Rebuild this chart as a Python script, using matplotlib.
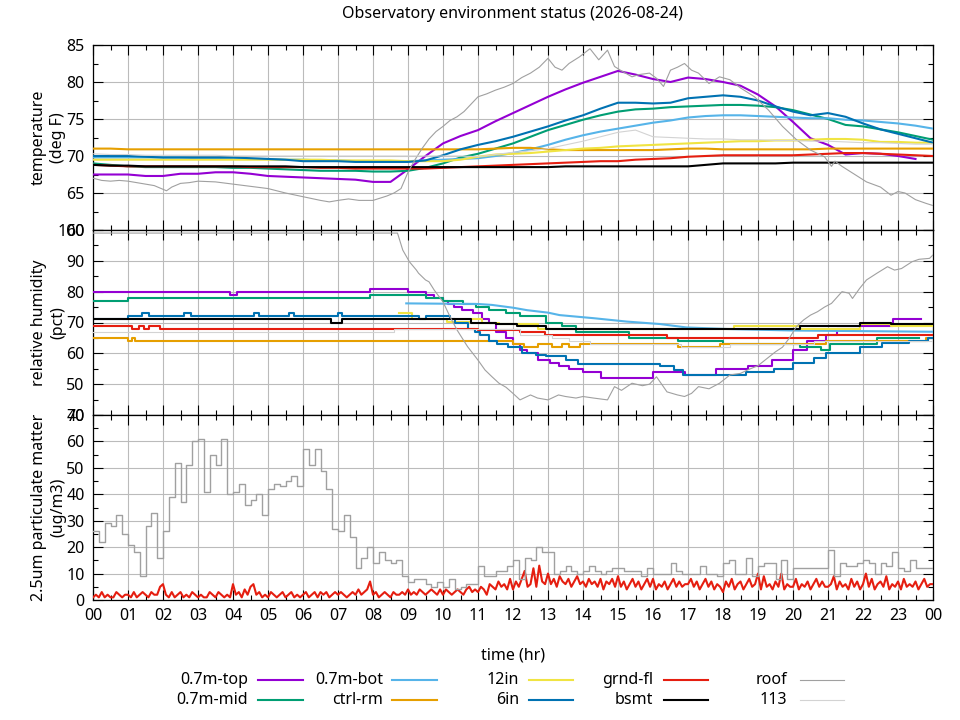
import numpy as np
import matplotlib
matplotlib.use("Agg")
import matplotlib.pyplot as plt
from matplotlib.lines import Line2D
from matplotlib.ticker import MultipleLocator

plt.rcParams['font.family'] = ['Noto Sans', 'DejaVu Sans']
plt.rcParams['font.size'] = 11.5

# ---------------- data ----------------
NAMES = ['0.7m-top', '0.7m-mid', '0.7m-bot', 'ctrl-rm', '12in',
         '6in', 'grnd-fl', 'bsmt', 'roof', '113']
COLORS = ['#9400d3', '#009e73', '#56b4e9', '#e69f00', '#f0e442',
          '#0072b2', '#e51e10', '#000000', '#a0a0a0', '#d3d3d3']

# temperature, every half hour 00:00 .. 24:00
t_hours = np.arange(49) * 0.5
temp_top = [67.5, 67.5, 67.5, 67.3, 67.3, 67.6, 67.6, 67.8, 67.8, 67.6,
            67.3, 67.2, 67.1, 67.0, 66.9, 66.8, 66.5, 66.5, 68.2, 70.0,
            71.7, 72.7, 73.5, 74.7, 75.8, 76.9, 78.0, 79.0, 79.9, 80.7,
            81.5, 81.0, 80.4, 80.0, 80.6, 80.4, 80.0, 79.5, 78.3, 76.7,
            74.6, 72.4, 71.5, 70.2, 70.4, 70.3, 70.0, 69.6, np.nan]
temp_mid = [69.0, 68.8, 68.6, 68.5, 68.5, 68.5, 68.5, 68.5, 68.4, 68.4,
            68.3, 68.2, 68.1, 68.0, 68.0, 68.0, 67.9, 67.9, 68.0, 68.4,
            69.0, 69.8, 70.3, 71.0, 71.7, 72.6, 73.5, 74.2, 74.9, 75.5,
            76.0, 76.3, 76.4, 76.6, 76.7, 76.8, 76.9, 76.9, 76.8, 76.6,
            76.2, 75.6, 75.0, 74.2, 74.0, 73.6, 73.2, 72.7, 72.2]
temp_bot = [69.8, 69.8, 69.8, 69.8, 69.8, 69.8, 69.7, 69.7, 69.7, 69.6,
            69.6, 69.5, 69.5, 69.4, 69.4, 69.3, 69.3, 69.3, 69.3, 69.4,
            69.5, 69.6, 69.7, 70.0, 70.4, 70.9, 71.5, 72.2, 72.8, 73.3,
            73.7, 74.1, 74.5, 74.8, 75.2, 75.4, 75.5, 75.5, 75.4, 75.3,
            75.2, 75.1, 75.1, 74.9, 74.8, 74.6, 74.4, 74.1, 73.7]
temp_ctrl = [71.0, 71.0, 70.9, 70.9, 70.9, 70.9, 70.9, 70.9, 70.9, 70.9,
             70.9, 70.9, 70.9, 70.9, 70.9, 70.9, 70.9, 70.9, 70.9, 70.9,
             70.9, 70.9, 70.9, 71.0, 71.1, 71.1, 70.9, 70.8, 70.8, 70.8,
             70.8, 70.8, 70.8, 70.9, 71.0, 71.0, 70.9, 70.9, 70.9, 70.9,
             70.9, 70.9, 71.0, 71.0, 71.0, 71.0, 71.0, 71.0, 71.0]
temp_12in = [69.5, 69.5, 69.5, 69.5, 69.5, 69.5, 69.5, 69.5, 69.5, 69.5,
             69.5, 69.5, 69.5, 69.5, 69.4, 69.4, 69.4, 69.4, 69.3, 69.3,
             69.3, 69.5, 69.9, 70.2, 70.3, 70.4, 70.6, 70.8, 71.0, 71.1,
             71.3, 71.4, 71.5, 71.6, 71.7, 71.8, 71.9, 72.0, 72.0, 72.1,
             72.1, 72.2, 72.3, 72.3, 72.2, 71.9, 71.9, 71.8, 71.8]
temp_6in = [70.0, 70.0, 70.0, 69.9, 69.8, 69.8, 69.8, 69.8, 69.8, 69.7,
            69.6, 69.5, 69.3, 69.3, 69.3, 69.2, 69.2, 69.2, 69.2, 69.4,
            70.1, 70.9, 71.5, 72.0, 72.6, 73.3, 74.0, 74.8, 75.5, 76.4,
            77.2, 77.2, 77.1, 77.2, 77.8, 78.0, 78.2, 78.0, 77.5, 76.7,
            76.0, 75.5, 75.8, 75.3, 74.4, 73.6, 73.0, 72.4, 71.8]
temp_grnd = [68.8, 68.7, 68.6, 68.6, 68.6, 68.6, 68.6, 68.6, 68.6, 68.5,
             68.5, 68.5, 68.5, 68.4, 68.4, 68.3, 68.3, 68.3, 68.3, 68.3,
             68.4, 68.5, 68.6, 68.7, 68.8, 68.9, 69.0, 69.1, 69.2, 69.3,
             69.3, 69.5, 69.6, 69.7, 69.9, 70.0, 70.1, 70.1, 70.1, 70.1,
             70.1, 70.2, 70.3, 70.4, 70.4, 70.3, 70.2, 70.1, 70.0]
temp_bsmt = [68.8, 68.7, 68.7, 68.6, 68.6, 68.6, 68.6, 68.6, 68.6, 68.6,
             68.6, 68.6, 68.5, 68.5, 68.5, 68.5, 68.5, 68.5, 68.5, 68.5,
             68.5, 68.5, 68.5, 68.5, 68.5, 68.5, 68.5, 68.6, 68.6, 68.6,
             68.6, 68.6, 68.6, 68.6, 68.6, 68.8, 69.0, 69.0, 69.0, 69.0,
             69.1, 69.1, 69.1, 69.1, 69.1, 69.1, 69.1, 69.1, 69.1]
temp_113 = [70.3, 70.2, 70.2, 70.1, 70.1, 70.1, 70.1, 70.1, 70.0, 70.0,
            70.0, 70.0, 70.0, 70.0, 70.0, 70.0, 70.0, 70.0, 70.0, 70.0,
            70.0, 70.0, 69.9, 70.2, 70.5, 70.7, 71.0, 71.5, 72.0, 72.6,
            73.2, 73.5, 72.6, 72.5, 72.4, 72.3, 72.3, 72.2, 72.2, 72.1,
            72.1, 72.0, 72.0, 71.9, 71.8, 71.8, 71.7, 71.6, 71.6]

roof_t_hours = [0, 0.25, 0.5, 0.75, 1.0, 1.25, 1.5, 1.75, 2.0, 2.1, 2.25, 2.5,
                2.75, 3.0, 3.5, 4.0, 4.5, 5.0, 5.5, 6.0, 6.5, 6.75, 7.0, 7.3,
                7.6, 8.0, 8.2, 8.4, 8.6, 8.8, 9.0, 9.2, 9.4, 9.6, 9.8, 10.0,
                10.2, 10.4, 10.6, 10.8, 11.0, 11.25, 11.5, 11.75, 12.0, 12.25,
                12.5, 12.75, 13.0, 13.2, 13.4, 13.6, 13.9, 14.2, 14.45, 14.7,
                14.9, 15.1, 15.4, 15.6, 15.9, 16.1, 16.3, 16.5, 16.7, 16.9,
                17.1, 17.3, 17.6, 17.9, 18.2, 18.5, 18.9, 19.3, 19.7, 20.1,
                20.5, 20.9, 21.1, 21.2, 21.4, 21.7, 22.1, 22.5, 22.8, 23.0,
                23.2, 23.5, 23.8, 24.0]
roof_temp = [67.0, 66.7, 66.6, 66.7, 66.6, 66.4, 66.2, 66.0, 65.5, 65.3, 65.8, 66.3,
             66.4, 66.6, 66.5, 66.2, 65.9, 65.6, 65.0, 64.5, 64.0, 63.8, 64.0, 64.2,
             64.0, 64.0, 64.3, 64.6, 65.0, 65.6, 67.8, 69.5, 71.0, 72.3, 73.3, 74.0,
             74.8, 75.3, 76.0, 77.0, 78.0, 78.4, 78.9, 79.3, 79.8, 80.6,
             81.2, 82.0, 83.2, 82.0, 81.6, 82.5, 83.4, 84.5, 83.0, 84.3,
             82.1, 81.5, 80.7, 81.0, 81.2, 80.5, 79.4, 81.6, 82.0, 82.5,
             81.6, 81.2, 79.8, 80.7, 80.3, 79.2, 78.0, 76.2, 74.0, 72.2,
             70.8, 69.9, 68.6, 69.3, 68.6, 67.7, 66.5, 65.8, 64.7, 65.2,
             65.0, 64.1, 63.6, 63.3]

# relative humidity: step series, (change time, new value)
rh_top_h = [0, 3.9, 4.1, 7.9, 9.0, 9.5, 9.75, 10.0, 10.15, 10.3, 10.55, 10.85,
            11.1, 11.3, 11.5, 11.8, 12.0, 12.2, 12.4, 12.7, 13.05, 13.3, 13.6,
            14.0, 14.5, 16.0, 16.9, 17.8, 18.7, 19.4, 20.0, 20.4, 20.95, 21.25,
            21.9, 22.85, 23.65]
rh_top = [80, 79, 80, 81, 80, 79, 78, 77, 76, 75, 74, 73,
          71, 70, 67, 65, 63, 61, 60, 58, 57, 56, 55,
          54, 52, 54, 53, 55, 56, 58, 61, 64, 66, 68,
          69, 71, 71]
rh_mid_h = [0, 1.0, 7.9, 9.5, 10.0, 10.57, 10.95, 11.3, 11.8, 12.2, 12.95, 13.4,
            13.8, 15.3, 16.7, 18.0, 20.2, 20.8, 21.05, 22.4, 23.6]
rh_mid = [77, 78, 79, 78, 77, 76, 75, 74, 73, 72, 70, 69,
          67, 65, 64, 63, 62, 61, 63, 65, 65]
rh_bot_h = [8.95, 11.0, 11.4, 12.0, 12.4, 13.0, 13.33, 14.3, 15.25, 16.2, 16.95,
            18.1, 20.0, 22.0, 24.0]
rh_bot = [76.2, 76.0, 75.7, 74.8, 74.0, 73.2, 72.4, 71.4, 70.3, 69.5, 68.4,
          67.9, 67.4, 67.2, 67.0]
rh_ctrl_h = [0, 1.0, 1.1, 1.2, 12.0, 12.3, 12.7, 13.1, 13.4, 13.6, 13.9, 16.7,
             17.9, 20.95, 23.8, 24.0]
rh_ctrl = [65, 64, 65, 64, 63, 62, 63, 62, 63, 62, 63, 62,
           63, 64, 65, 65]
rh_12in_h = [8.75, 9.1, 10.1, 10.8, 11.1, 11.6, 12.7, 18.3, 20.2, 21.9, 22.8, 24.0]
rh_12in = [73, 71, 70.3, 71, 70, 69.5, 68, 69, 68, 69.5, 69, 69]
rh_6in_h = [0, 1.0, 1.4, 1.6, 2.6, 2.8, 4.6, 4.75, 5.6, 5.75, 7.0, 7.1, 9.3, 9.5,
            10.2, 10.35, 10.7, 10.9, 11.05, 11.3, 11.55, 11.85, 12.25, 12.65,
            12.95, 13.5, 13.85, 16.2, 16.6, 16.85, 18.65, 19.45, 20.0, 20.6,
            20.95, 21.9, 22.55, 23.3, 23.85, 24.0]
rh_6in = [71, 72, 73, 72, 73, 72, 73, 72, 73, 72, 73, 72, 71, 72,
          71, 70, 68, 67, 66, 64, 63, 62, 60, 59.5,
          59, 58, 56.5, 56, 54.5, 53, 54, 55, 57, 58.5,
          60, 62, 63.5, 64, 65, 65]
rh_grnd_h = [0, 1.1, 1.3, 1.45, 1.6, 1.9, 11.0, 12.2, 12.9, 16.4, 20.7, 24.0]
rh_grnd = [69, 68, 69, 68, 69, 68, 67.5, 67, 66, 65, 66, 66]
rh_bsmt_h = [0, 6.8, 7.1, 10.8, 11.5, 12.1, 12.95, 20.2, 21.9, 22.8, 24.0]
rh_bsmt = [71, 70, 71, 70, 69.5, 69, 68, 69, 70, 69.5, 69.5]
rh_113_h = [0, 8.6, 12.2, 13.1, 13.6, 14.2, 16.8, 18.2, 20.6, 24.0]
rh_113 = [67, 68, 66, 65, 64, 63, 62, 63, 64, 64]

roof_rh_hours = [0, 8.7, 8.85, 9.04, 9.24, 9.3, 9.5, 9.6, 9.75, 10.0, 10.2, 10.4,
                 10.7, 11.0, 11.2, 11.4, 11.6, 11.8, 12.0, 12.2, 12.5, 12.7, 13.0,
                 13.3, 13.5, 13.8, 14.0, 14.3, 14.7, 14.9, 15.1, 15.4, 15.7, 15.9,
                 16.1, 16.4, 16.7, 16.9, 17.1, 17.3, 17.6, 17.9, 18.2, 18.5, 18.7,
                 19.0, 19.2, 19.5, 19.7, 19.9, 20.1, 20.3, 20.5, 20.7, 20.9, 21.1,
                 21.4, 21.6, 21.7, 21.9, 22.1, 22.4, 22.7, 22.9, 23.1, 23.4, 23.6,
                 23.9, 24.0]
roof_rh = [99, 99, 93.5, 89.7, 87, 86, 83.8, 83.2, 80.5, 76.7, 71.9, 67.6,
           62.2, 57.8, 54.6, 52.4, 50.3, 49, 47.0, 44.9, 46.5, 45.5, 44.9,
           46.5, 46, 45.5, 46, 45.5, 44.9, 49.2, 48, 50.3, 49.5, 50,
           52.4, 47.5, 46.5, 46, 47, 49.2, 48.5, 50.3, 53, 53.5, 54.6,
           56, 57.8, 60.5, 62, 65, 68.7, 70.8, 72.4, 73.5, 75, 76.2,
           80.0, 79.5, 77.8, 81, 83.8, 86.0, 88.1, 87, 87.5, 89.7, 90.5,
           90.8, 91.9]

# particulate matter: roof every 10 minutes, grnd-fl every 5 minutes
pm_roof_hours = np.arange(145) / 6.0
pm_roof = [26, 22, 29, 28, 32, 25, 21, 18, 9, 28, 33, 16,
           26, 39, 52, 37, 51, 60, 61, 41, 55, 51, 61, 40,
           41, 44, 36, 38, 40, 32, 42, 44, 43, 45, 47, 43,
           57, 51, 57, 49, 42, 27, 26, 32, 24, 12, 16, 20,
           14, 18, 15, 14, 15, 9, 7, 8, 8, 6, 5, 7,
           5, 8, 4, 5, 6, 6, 13, 9, 9, 11, 11, 13,
           15, 8, 16, 15, 20, 18, 18, 10, 11, 13, 11, 10,
           11, 13, 11, 10, 11, 12, 12, 11, 11, 11, 9, 12,
           10, 10, 10, 14, 11, 10, 10, 10, 13, 10, 10, 9,
           14, 15, 10, 10, 16, 9, 13, 14, 14, 8, 15, 8,
           12, 12, 12, 12, 12, 12, 19, 9, 14, 13, 13, 14,
           15, 14, 10, 14, 13, 18, 12, 11, 15, 12, 12, 12, 12]
pm_grnd_hours = np.arange(289) / 12.0
pm_grnd = [1, 2, 1, 3, 1, 2, 1, 1, 3, 2, 1, 2,
           2, 1, 3, 1, 2, 3, 2, 1, 3, 2, 2, 5,
           6, 2, 1, 3, 1, 2, 3, 1, 2, 1, 3, 2,
           1, 2, 1, 1, 3, 2, 1, 3, 2, 1, 2, 1,
           6, 2, 3, 1, 4, 2, 5, 6, 2, 3, 1, 2,
           1, 3, 2, 1, 2, 3, 1, 2, 3, 1, 2, 1,
           2, 3, 1, 2, 3, 1, 3, 2, 3, 1, 2, 3,
           2, 3, 2, 1, 2, 3, 2, 4, 2, 3, 4, 7,
           2, 3, 1, 2, 3, 2, 1, 3, 2, 2, 3, 2,
           4, 2, 3, 2, 4, 3, 2, 3, 4, 3, 2, 4,
           2, 4, 3, 2, 3, 4, 3, 2, 4, 5, 3, 4,
           3, 5, 4, 2, 6, 5, 4, 7, 5, 6, 4, 8,
           4, 7, 5, 8, 11, 5, 6, 12, 5, 13, 7, 6,
           10, 6, 8, 5, 9, 7, 6, 8, 5, 7, 9, 6,
           7, 5, 8, 6, 7, 5, 8, 4, 7, 6, 8, 5,
           9, 5, 7, 4, 6, 8, 5, 7, 4, 6, 8, 5,
           8, 4, 6, 5, 7, 4, 6, 8, 5, 7, 5, 6,
           6, 8, 5, 7, 4, 6, 8, 5, 7, 4, 6, 5,
           3, 7, 5, 8, 4, 6, 7, 4, 6, 8, 5, 6,
           10, 4, 9, 5, 6, 4, 7, 5, 10, 4, 6, 5,
           5, 8, 4, 6, 5, 7, 4, 6, 8, 5, 7, 5,
           5, 6, 9, 4, 7, 5, 6, 4, 8, 5, 7, 4,
           6, 10, 5, 8, 4, 6, 7, 5, 9, 4, 6, 5,
           7, 4, 8, 5, 6, 5, 7, 4, 6, 8, 5, 6, 6]

hour_labels = ['%02d' % (h % 24) for h in range(25)]

# ---------------- figure ----------------
W, H = 960, 720
fig = plt.figure(figsize=(9.6, 7.2), dpi=100)


def px_axes(top, bottom):
    return fig.add_axes([93 / W, 1 - bottom / H, (933 - 93) / W, (bottom - top) / H])


ax_t = px_axes(45, 230)
ax_h = px_axes(230, 415)
ax_p = px_axes(415, 600)

thick = 1.5
thin = 0.8

# temperature
temps = [temp_top, temp_mid, temp_bot, temp_ctrl, temp_12in,
         temp_6in, temp_grnd, temp_bsmt]
for i, vals in enumerate(temps):
    ax_t.plot(t_hours, vals, color=COLORS[i], lw=thick, zorder=3 + i)
ax_t.plot(roof_t_hours, roof_temp, color=COLORS[8], lw=thin, zorder=11)
ax_t.plot(t_hours, temp_113, color=COLORS[9], lw=thin, zorder=12)

# humidity
rh_series = [(rh_top_h, rh_top), (rh_mid_h, rh_mid), None, (rh_ctrl_h, rh_ctrl),
             (rh_12in_h, rh_12in), (rh_6in_h, rh_6in), (rh_grnd_h, rh_grnd),
             (rh_bsmt_h, rh_bsmt)]
for i, s in enumerate(rh_series):
    if s is None:
        ax_h.plot(rh_bot_h, rh_bot, color=COLORS[i], lw=thick, zorder=3 + i)
    else:
        ax_h.plot(s[0], s[1], color=COLORS[i], lw=thick, zorder=3 + i,
                  drawstyle='steps-post')
ax_h.plot(roof_rh_hours, roof_rh, color=COLORS[8], lw=thin, zorder=11)
ax_h.plot(rh_113_h, rh_113, color=COLORS[9], lw=thin, zorder=12,
          drawstyle='steps-post')

# particulate matter
ax_p.plot(pm_grnd_hours, pm_grnd, color=COLORS[6], lw=thick, zorder=3)
ax_p.plot(pm_roof_hours, pm_roof, color=COLORS[8], lw=1.0, zorder=4,
          drawstyle='steps-post')

# axes styling
for ax, (lo, hi, step) in zip([ax_t, ax_h, ax_p], [(60, 85, 5), (40, 100, 10), (0, 70, 10)]):
    ax.set_xlim(0, 24)
    ax.set_ylim(lo, hi)
    ax.set_yticks(np.arange(lo, hi + 0.1, step))
    ax.yaxis.set_minor_locator(MultipleLocator(step / 2))
    ax.set_xticks(range(25))
    ax.xaxis.set_minor_locator(MultipleLocator(0.5))
    ax.grid(True, which='major', color='#bbbbbb', lw=0.8, zorder=0)
    ax.tick_params(which='both', direction='in', top=True, right=True,
                   width=0.8, colors='black', labelsize=11.5, pad=6)
    ax.tick_params(which='major', length=7)
    ax.tick_params(which='minor', length=3.5)
    for sp in ax.spines.values():
        sp.set_linewidth(0.9)
    ax.yaxis.set_label_coords(-0.032, 0.5)

ax_t.set_xticklabels([])
ax_h.set_xticklabels([])
ax_p.set_xticklabels(hour_labels)

ax_t.set_ylabel('temperature\n(deg F)', linespacing=1.3)
ax_h.set_ylabel('relative humidity\n(pct)', linespacing=1.3)
ax_p.set_ylabel('2.5um particulate matter\n(ug/m3)', linespacing=1.3)

fig.text(513 / W, 1 - 14 / H, 'Observatory environment status (2026-08-24)',
         ha='center', va='center')
fig.text(513 / W, 1 - 655 / H, 'time (hr)', ha='center', va='center')

# legend, gnuplot style: label right-aligned, then sample line
text_right = [248, 383, 519, 653, 787]
line_x = [(258, 303), (392, 437), (529, 573), (664, 708), (800, 844)]
row_y = [680, 700]
for i, name in enumerate(NAMES):
    col, row = divmod(i, 2)
    y = 1 - row_y[row] / H
    fig.text(text_right[col] / W, y, name, ha='right', va='center')
    x0, x1 = line_x[col]
    fig.add_artist(Line2D([x0 / W, x1 / W], [y, y], transform=fig.transFigure,
                          color=COLORS[i], lw=thick if i < 8 else thin))

fig.savefig('out.png', dpi=100)
